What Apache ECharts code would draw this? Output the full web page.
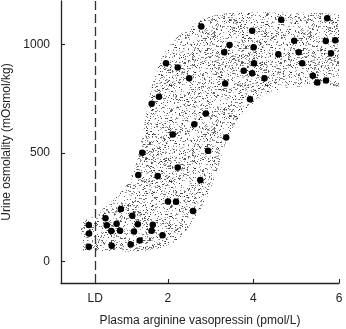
<!DOCTYPE html>
<html>
<head>
<meta charset="utf-8">
<script src="https://cdn.jsdelivr.net/npm/echarts@6/dist/echarts.min.js"></script>
<style>
  html, body { margin: 0; padding: 0; background: #fff; }
  #chart { width: 346px; height: 329px; }
</style>
</head>
<body>
<div id="chart"></div>
<script>
// Individual measurements: plasma AVP (pmol/L) vs urine osmolality (mOsmol/kg)
const avpValues = [
  0.15, 0.155, 0.15, 0.54, 0.57, 0.80, 0.676, 0.88, 0.685, 0.90,
  1.167, 1.296, 1.207, 1.34, 1.13, 1.646, 1.62, 1.873, 1.307, 1.761,
  2.002, 2.189, 2.586, 2.229, 2.757, 1.40, 2.112, 2.937, 3.363, 2.617,
  2.886, 1.62, 1.791, 1.955, 2.229, 2.497, 3.339, 3.919, 2.78, 3.44,
  3.316, 3.97, 4.005, 4.012, 3.772, 3.97, 4.258, 4.648, 4.581, 4.953,
  5.058, 5.139, 5.387, 5.493, 5.696, 5.724, 5.691, 5.911, 5.813
];
const osmValues = [
  167, 128, 67, 198, 166, 173, 140, 141, 72, 241,
  210, 171, 137, 96, 77, 169, 141, 120, 398, 393,
  276, 275, 232, 432, 375, 501, 585, 510, 571, 632,
  681, 726, 759, 913, 894, 844, 820, 747, 1082, 997,
  964, 1063, 987, 913, 879, 867, 844, 1113, 954, 1017,
  964, 913, 855, 824, 834, 1120, 1016, 1019, 959
];

// Envelope of the normal range (stippled band)
const upperX = [-0.03, 0.3, 0.65, 0.95, 1.15, 1.3, 1.45, 1.6, 1.85, 2.2, 2.55, 2.85, 3.5, 4.4, 5.3, 6.0];
const upperY = [180, 215, 270, 330, 395, 480, 630, 790, 935, 1030, 1080, 1120, 1145, 1148, 1145, 1140];
const lowerX = [-0.03, 0.5, 1.0, 1.5, 1.9, 2.2, 2.5, 2.75, 2.95, 3.15, 3.35, 3.6, 3.9, 4.3, 4.8, 5.4, 6.0];
const lowerY = [50, 47, 45, 50, 65, 95, 160, 235, 310, 420, 545, 645, 712, 770, 800, 808, 805];

// Detection limit and axis ticks
const ldValue = 0.3;
const xTickValues = [2, 4, 6];
const yTickValues = [0, 500, 1000];

function stippleCanvas() {
  const size = 96;
  const c = document.createElement('canvas');
  c.width = c.height = size;
  const g = c.getContext('2d');
  let s = 20240611;
  const rnd = () => (s = (s * 16807) % 2147483647) / 2147483647;
  for (let i = 0; i < 1800; i++) {
    const x = Math.floor(rnd() * size);
    const y = Math.floor(rnd() * size);
    const a = 0.25 + rnd() * 0.6;
    g.fillStyle = 'rgba(30,30,30,' + a.toFixed(2) + ')';
    g.fillRect(x, y, rnd() < 0.15 ? 2 : 1, 1);
  }
  return c;
}
const stipple = stippleCanvas();

// Catmull-Rom sampling in pixel space for smooth band edges
function smoothPts(pts, steps) {
  const out = [];
  for (let i = 0; i < pts.length - 1; i++) {
    const p0 = pts[Math.max(i - 1, 0)], p1 = pts[i], p2 = pts[i + 1], p3 = pts[Math.min(i + 2, pts.length - 1)];
    for (let k = 0; k < steps; k++) {
      const t = k / steps, t2 = t * t, t3 = t2 * t;
      const f = (a, b, c, d) => 0.5 * ((2 * b) + (-a + c) * t + (2 * a - 5 * b + 4 * c - d) * t2 + (-a + 3 * b - 3 * c + d) * t3);
      out.push([f(p0[0], p1[0], p2[0], p3[0]), f(p0[1], p1[1], p2[1], p3[1])]);
    }
  }
  out.push(pts[pts.length - 1]);
  return out;
}

const chart = echarts.init(document.getElementById('chart'), null, { renderer: 'canvas' });
const textColor = '#222';
const fontFamily = '"Liberation Sans", Arial, sans-serif';

chart.setOption({
  animation: false,
  backgroundColor: '#fff',
  grid: { left: 61, right: 7, top: 1, bottom: 46, containLabel: false, outerBoundsMode: 'none' },
  xAxis: {
    type: 'value',
    min: -0.5,
    max: 6,
    name: 'Plasma arginine vasopressin (pmol/L)',
    nameLocation: 'middle',
    nameGap: 32,
    nameTextStyle: { color: textColor, fontSize: 12, fontFamily },
    axisLine: { onZero: false, lineStyle: { color: '#222', width: 1.3 } },
    axisTick: { show: true, inside: true, length: 4, customValues: xTickValues, lineStyle: { color: '#222', width: 1.1 } },
    axisLabel: {
      customValues: [ldValue].concat(xTickValues),
      formatter: v => (Math.abs(v - ldValue) < 1e-6 ? 'LD' : String(v)),
      color: textColor, fontSize: 12, fontFamily, margin: 10
    },
    splitLine: { show: false }
  },
  yAxis: {
    type: 'value',
    min: -100,
    max: 1200,
    name: 'Urine osmolality (mOsmol/kg)',
    nameLocation: 'middle',
    nameGap: 46,
    nameRotate: 90,
    nameTextStyle: { color: textColor, fontSize: 12, fontFamily },
    axisLine: { show: true, onZero: false, lineStyle: { color: '#222', width: 1.3 } },
    axisTick: { show: true, inside: true, length: 4, customValues: yTickValues, lineStyle: { color: '#222', width: 1.1 } },
    axisLabel: { customValues: yTickValues, formatter: v => String(v), color: textColor, fontSize: 12, fontFamily, margin: 11 },
    splitLine: { show: false }
  },
  series: [
    {
      type: 'custom',
      silent: true,
      z: 1,
      data: [[0, 0]],
      renderItem: function (params, api) {
        const up = upperX.map((x, i) => api.coord([x, upperY[i]]));
        const lo = lowerX.map((x, i) => api.coord([x, lowerY[i]]));
        const pts = smoothPts(up, 8).concat(smoothPts(lo, 8).reverse());
        return {
          type: 'polygon',
          shape: { points: pts },
          style: { fill: { image: stipple, repeat: 'repeat' }, stroke: null }
        };
      }
    },
    {
      type: 'scatter',
      z: 3,
      symbol: 'circle',
      symbolSize: 6.5,
      itemStyle: { color: '#000', opacity: 1 },
      data: avpValues.map((x, i) => [x, osmValues[i]]),
      markLine: {
        silent: true,
        symbol: ['none', 'none'],
        label: { show: false },
        lineStyle: { color: '#333', type: [9, 4], width: 1.3 },
        data: [{ xAxis: ldValue }]
      }
    }
  ]
});
</script>
</body>
</html>
